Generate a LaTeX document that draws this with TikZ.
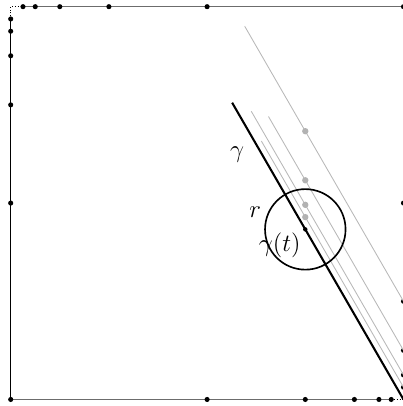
\documentclass[tikz,border=0pt]{standalone}
\usepackage{amsmath, amssymb}
\usepackage{tikz}
\usetikzlibrary{calc}
\usepackage{xcolor}

\begin{document}
\begin{tikzpicture}[
  edge/.style={line width=0.6pt},
  greyedge/.style={edge, gray!85!black},
  trace/.style={line width=0.5pt, black!28},
  curve/.style={line width=1.2pt},
  dyad/.style={fill=black},
  shiftdot/.style={fill=black!30},
  lbl/.style={font=\Large}
]
\useasboundingbox (-0.218,-0.133) rectangle (7.97,8.136);
% frame of the square
\draw[greyedge] (0.25,8) -- (8,8);
\draw[greyedge] (0,0) -- (7.75,0);
\draw[edge] (0,0) -- (0,7.75);
\draw[edge, densely dotted] (0,7.75) -- (0,8) -- (0.25,8);
\draw[edge, densely dotted] (7.75,0) -- (8,0);
% dyadic points on the sides
\foreach \d in {4,2,1,0.5,0.25}{
  \fill[dyad] (\d,8) circle (0.052);
  \fill[dyad] (0,8-\d) circle (0.052);
  \fill[dyad] (8-\d,0) circle (0.052);
  \fill[dyad] (8,\d) circle (0.052);
}
\fill[dyad] (0,0) circle (0.052);
\fill[dyad] (8,8) circle (0.052);
% shifted copies of the line
\path (8,0) ++(120:4) coordinate (ct);
\path (8,2) ++(120:6.47) coordinate (s1);
\path (8,1) ++(120:5.5) coordinate (s2);
\path (8,0.5) ++(120:6.2) coordinate (s3);
\path (8,0.25) ++(120:5.79) coordinate (s4);
\draw[trace] (s1) -- (8,2);
\draw[trace] (s2) -- (8,1);
\draw[trace] (s3) -- (8,0.5);
\draw[trace] (s4) -- (8,0.25);
\fill[shiftdot] ($(ct)+(0,2)$) circle (0.065);
\fill[shiftdot] ($(ct)+(0,1)$) circle (0.065);
\fill[shiftdot] ($(ct)+(0,0.5)$) circle (0.065);
\fill[shiftdot] ($(ct)+(0,0.25)$) circle (0.065);
% the line gamma and the ball
\path (8,0) ++(120:6.98) coordinate (g0);
\draw[curve] (g0) -- (8,0);
\draw[line width=0.95pt] (ct) circle (0.82);
\fill (ct) circle (0.045);
\node[lbl] at (4.61,4.98){$\gamma$};
\node[lbl] at (4.98,3.82){$r$};
\node[lbl] at (5.48,3.15){$\gamma(t)$};
\end{tikzpicture}
\end{document}
